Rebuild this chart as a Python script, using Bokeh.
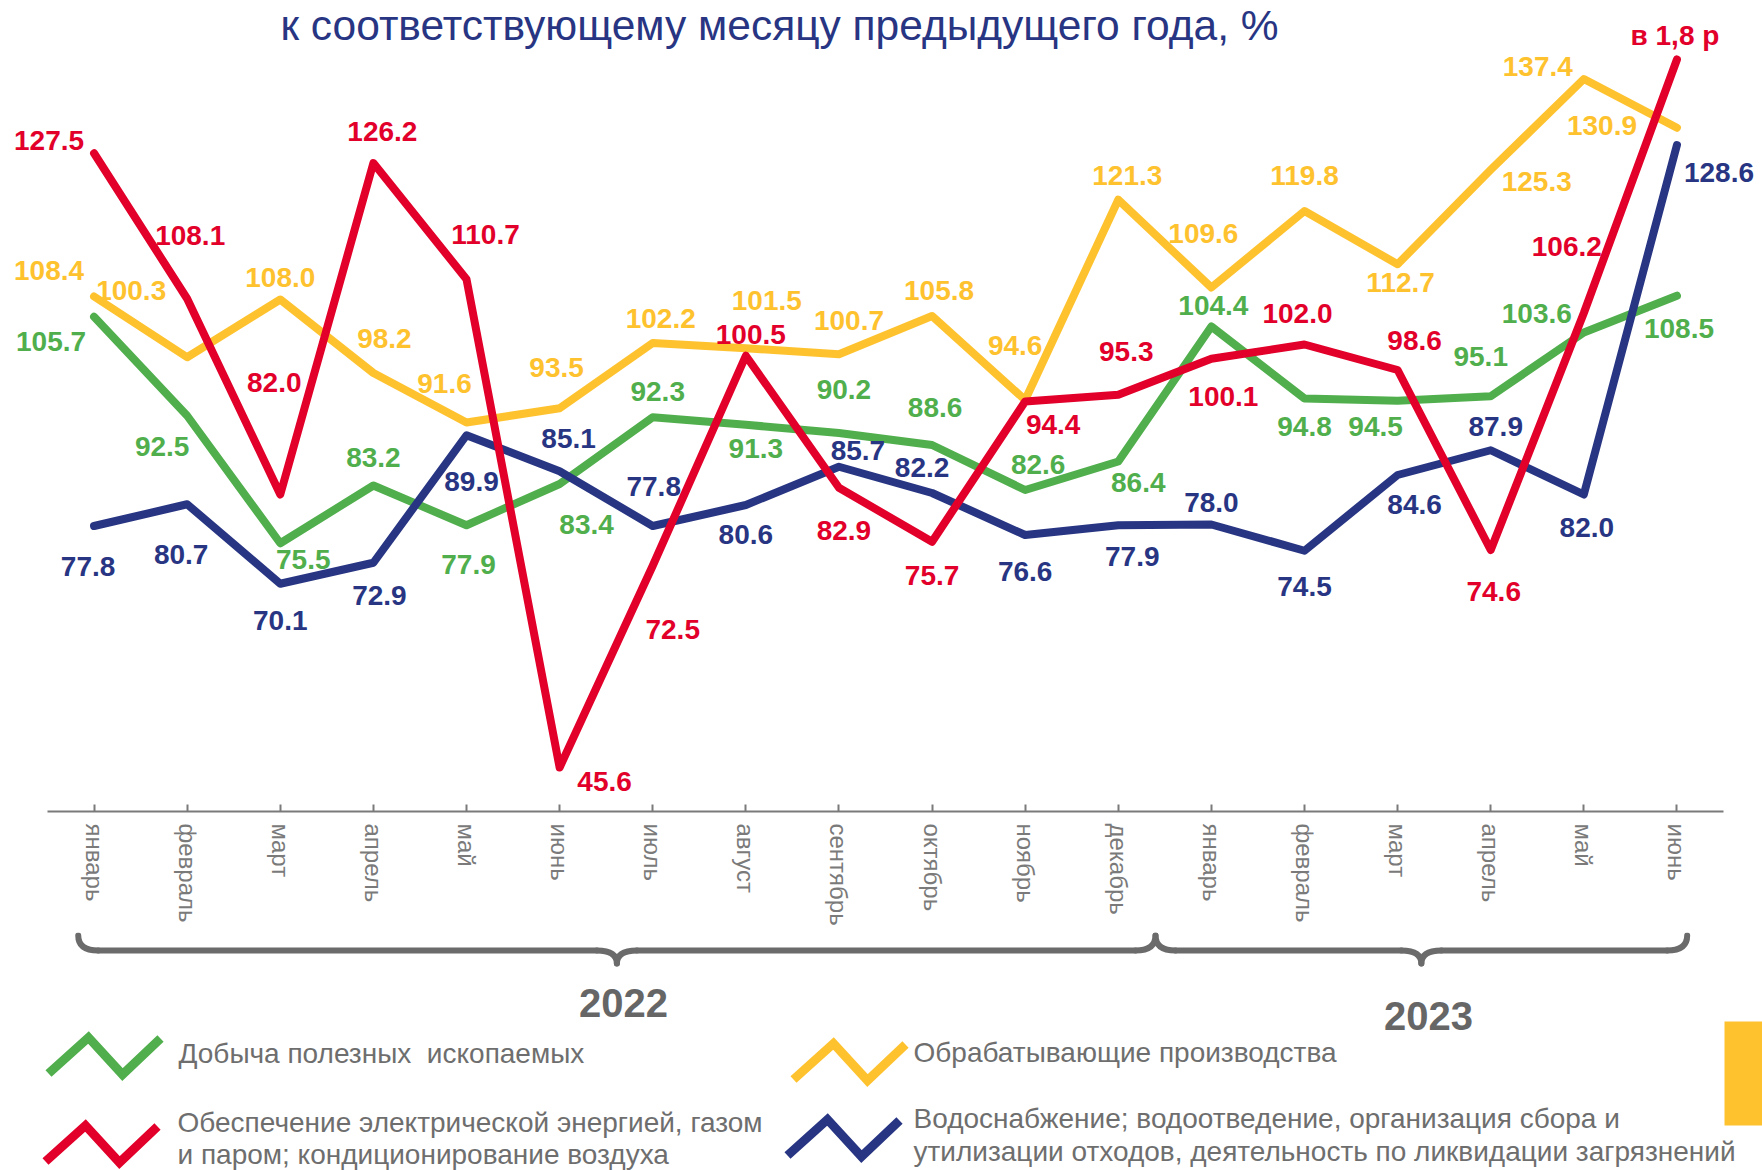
from bokeh.plotting import figure
from bokeh.layouts import column
from bokeh.models import Range1d, FixedTicker, ColumnDataSource
from bokeh.core.properties import value
from bokeh.embed import file_html
from bokeh.resources import INLINE

# ---------------- data ----------------
months = ["январь", "февраль", "март", "апрель", "май", "июнь", "июль", "август",
          "сентябрь", "октябрь", "ноябрь", "декабрь",
          "январь", "февраль", "март", "апрель", "май", "июнь"]
years = ["2022", "2023"]

mining = [105.7, 92.5, 75.5, 83.2, 77.9, 83.4, 92.3, 91.3, 90.2, 88.6, 82.6, 86.4,
          104.4, 94.8, 94.5, 95.1, 103.6, 108.5]
manufacturing = [108.4, 100.3, 108.0, 98.2, 91.6, 93.5, 102.2, 101.5, 100.7, 105.8, 94.6, 121.3,
                 109.6, 119.8, 112.7, 125.3, 137.4, 130.9]
# last point drawn at the chart top (value itself is "в 1,8 р")
energy = [127.5, 108.1, 82.0, 126.2, 110.7, 45.6, 72.5, 100.5, 82.9, 75.7, 94.4, 95.3,
          100.1, 102.0, 98.6, 74.6, 106.2, 140.0]
energy_last_label = "в 1,8 р"
water = [77.8, 80.7, 70.1, 72.9, 89.9, 85.1, 77.8, 80.6, 85.7, 82.2, 76.6, 77.9,
         78.0, 74.5, 84.6, 87.9, 82.0, 128.6]

names = ["Добыча полезных\u00a0\u00a0ископаемых",
         "Обрабатывающие производства",
         "Обеспечение электрической энергией, газом\nи паром; кондиционирование воздуха",
         "Водоснабжение; водоотведение, организация сбора и\nутилизации отходов, деятельность по ликвидации загрязнений"]

title_text = "к соответствующему месяцу предыдущего года, %"

# label offsets in pixels (dx, dy; dy positive = down)
mining_off = [(-43, 25), (-25, 31), (23, 16), (0, -28), (2, 39), (27, 40), (5, -26), (10, 24),
              (5, -44), (3, -38), (13, -26), (20, 21), (2, -21), (0, 28), (-22, 26), (-10, -40),
              (-47, -19), (2, 33)]
manuf_off = [(-45, -26), (-56, -67), (0, -22), (11, -35), (-22, -39), (-3, -41), (8, -25), (21, -48),
             (10, -34), (7, -26), (-10, -55), (9, -24), (-8, -54), (0, -36), (3, 18), (46, 12),
             (-46, -13), (-75, -2)]
energy_off = [(-45, -13), (3, -63), (-6, -112), (9, -32), (19, -45), (45, 14), (20, 64), (5, -21),
              (5, 43), (0, 34), (28, 23), (8, -43), (12, 38), (-7, -31), (17, -30), (3, 41),
              (-17, -67), (-2, -24)]
water_off = [(-6, 40), (-6, 50), (0, 37), (6, 33), (5, 46), (9, -33), (1, -40), (0, 29),
             (19, -16), (-10, -26), (0, 36), (14, 31), (0, -22), (0, 36), (17, 29), (5, -24),
             (3, 33), (42, 27)]

# ---------------- style ----------------
GREEN = "#50AF4C"
YELLOW = "#FFC22F"
RED = "#E2002B"
NAVY = "#283583"
GREY_AX = "#7A7A7A"
GREY_TXT = "#6E6E6E"
FONT = value("Liberation Sans")

W, H = 1762, 1170
H1 = 932
FRAME_H = 811
LEFT, RIGHT = 47, 1723
CAT_W = (RIGHT - LEFT) / 18.0
Y1 = 45.6 + 767 / 7.5
Y0 = Y1 - FRAME_H / 7.5

def xdata(px):
    return -0.5 + (px - LEFT) / CAT_W

def ydata(py):
    return Y1 - py * (Y1 - Y0) / FRAME_H

def xpix(i):
    return LEFT + (i + 0.5) * CAT_W

idx = list(range(len(months)))

p1 = figure(width=W, height=H1, x_range=Range1d(xdata(0), xdata(W)), y_range=Range1d(Y0, Y1),
            output_backend="svg", toolbar_location=None, y_axis_type=None,
            min_border_left=0, min_border_right=0, min_border_top=0,
            min_border_bottom=H1 - FRAME_H)
p1.outline_line_color = None
p1.xgrid.visible = False
p1.ygrid.visible = False
ax = p1.xaxis[0]
ax.bounds = (-0.5, 17.5)
ax.ticker = FixedTicker(ticks=idx)
ax.major_label_overrides = {i: m for i, m in enumerate(months)}
ax.major_label_orientation = "vertical"
ax.major_label_text_font = "Liberation Sans"
ax.major_label_text_font_size = "24px"
ax.major_label_text_color = GREY_AX
ax.major_label_standoff = 12
ax.axis_line_color = GREY_AX
ax.axis_line_width = 2
ax.major_tick_line_color = GREY_AX
ax.major_tick_line_width = 2
ax.major_tick_in = 7
ax.major_tick_out = 0
ax.minor_tick_line_color = None

series = [(mining, GREEN, mining_off), (manufacturing, YELLOW, manuf_off),
          (water, NAVY, water_off), (energy, RED, energy_off)]
for vals, col, off in series:
    p1.line(idx, vals, line_color=col, line_width=8, line_join="round", line_cap="round")

for vals, col, off in series:
    texts = [f"{v:.1f}" for v in vals]
    if vals is energy:
        texts[-1] = energy_last_label
    src = ColumnDataSource(dict(x=idx, y=vals, t=texts,
                                dx=[o[0] for o in off], dy=[o[1] for o in off]))
    p1.text(x="x", y="y", text="t", x_offset="dx", y_offset="dy", source=src,
            text_font=FONT, text_font_style="bold", text_font_size="28px",
            text_color=col, text_align="center", text_baseline="middle")

p1.text(x=[xdata(779)], y=[ydata(25)], text=[title_text], text_font=FONT,
        text_font_size="42.5px", text_color=NAVY, text_align="center", text_baseline="middle")

# ---------------- lower panel: braces, years, legend ----------------
p2 = figure(width=W, height=H - H1, x_range=Range1d(0, W), y_range=Range1d(H, H1),
            x_axis_type=None, y_axis_type=None, output_backend="svg", toolbar_location=None,
            min_border=0, min_border_left=0, min_border_right=0, min_border_top=0,
            min_border_bottom=0)
p2.outline_line_color = None

BRACE_COL = "#6B6B6B"
braces = [(-0.17, 11.4), (11.4, 17.11)]
year_pos = [(623, 1002), (1428, 1015)]
YT, YB, YTIP, R = 935, 950, 963, 20
for (a, b), yr, (tx, ty) in zip(braces, years, year_pos):
    xa, xb = xpix(a), xpix(b)
    xm = (xa + xb) / 2
    p2.quadratic(x0=[xa, xm - R, xm + R, xb - R], y0=[YT, YB, YB, YB],
                 x1=[xa + R, xm, xm, xb], y1=[YB, YTIP, YTIP, YT],
                 cx=[xa, xm, xm, xb], cy=[YB, YB, YB, YB],
                 line_color=BRACE_COL, line_width=6, line_cap="round")
    p2.multi_line(xs=[[xa + R, xm - R], [xm + R, xb - R]], ys=[[YB, YB], [YB, YB]],
                  line_color=BRACE_COL, line_width=6, line_cap="round")
    p2.text(x=[tx], y=[ty], text=[yr], text_font=FONT, text_font_style="bold",
            text_font_size="40px", text_color="#666666", text_align="center",
            text_baseline="middle")

legend_items = [
    (GREEN, (48, 1073), 178, [1053]),
    (YELLOW, (793, 1079), 913, [1052]),
    (RED, (45, 1161), 177, [1122, 1154]),
    (NAVY, (787, 1155), 913, [1118, 1151]),
]
for (col, (ix, iy), tx, tys), name in zip(legend_items, names):
    zx = [ix, ix + 40, ix + 74, ix + 112]
    zy = [iy, iy - 36, iy + 1, iy - 35]
    p2.line(zx, zy, line_color=col, line_width=9, line_join="miter", line_cap="butt")
    for line_txt, ty in zip(name.split("\n"), tys):
        p2.text(x=[tx], y=[ty], text=[line_txt], text_font=FONT, text_font_size="28px",
                text_color=GREY_TXT, text_align="left", text_baseline="middle")

p2.quad(left=[1724], right=[1762], top=[1021], bottom=[1125], fill_color=YELLOW, line_color=None)

layout = column(p1, p2, spacing=0)
open("out.html", "w").write(file_html(layout, INLINE))
